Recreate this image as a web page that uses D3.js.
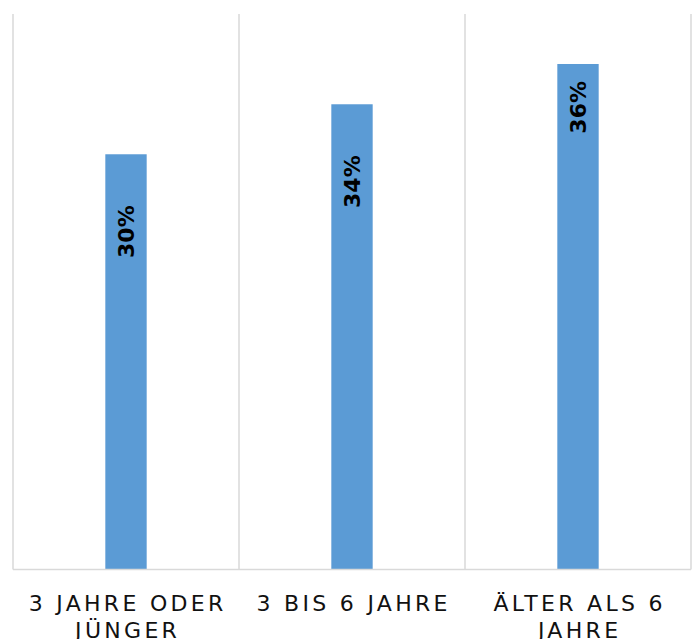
<!DOCTYPE html>
<html>
<head>
<meta charset="utf-8">
<script src="https://cdn.jsdelivr.net/npm/d3@7"></script>
<style>
  html, body { margin: 0; padding: 0; background: #ffffff; }
  svg { display: block; }
</style>
</head>
<body>
<svg id="chart" width="697" height="639"></svg>
<script>
// Age groups and share of respondents in each
const categories = ["3 JAHRE ODER JÜNGER", "3 BIS 6 JAHRE", "ÄLTER ALS 6 JAHRE"];
const shares = [0.299, 0.335, 0.364];
const yDomain = [0, 0.4];

// Layout
const W = 697, H = 639;
const plot = { left: 13, right: 691, top: 14, bottom: 569.5 };
const barFraction = 0.183;              // bar width as a share of the category band
const labelInset = [51, 51, 17];        // distance from bar top to the end of each value label
const barColor = "#5B9BD5";
const gridColor = "#d9d9d9";
const fontFamily = "'DejaVu Sans', Verdana, sans-serif";
const tickFontSize = 22;
const tickSpacing = 3.3;

const svg = d3.select("#chart");

const x = d3.scaleBand()
  .domain(categories)
  .range([plot.left, plot.right])
  .padding(0);

const y = d3.scaleLinear()
  .domain(yDomain)
  .range([plot.bottom, plot.top]);

const fmt = d3.format(".0%");

// Vertical separators between categories
const bounds = categories.map(c => x(c)).concat([x(categories[categories.length - 1]) + x.bandwidth()]);
svg.append("g")
  .selectAll("line")
  .data(bounds)
  .join("line")
  .attr("x1", d => d).attr("x2", d => d)
  .attr("y1", plot.top).attr("y2", plot.bottom)
  .attr("stroke", gridColor)
  .attr("stroke-width", 1.5);

// Bars
const barW = x.bandwidth() * barFraction;
svg.append("g")
  .selectAll("rect")
  .data(shares)
  .join("rect")
  .attr("x", (d, i) => x(categories[i]) + (x.bandwidth() - barW) / 2)
  .attr("y", d => y(d))
  .attr("width", barW)
  .attr("height", d => y(0) - y(d))
  .attr("fill", barColor);

// Category axis line
svg.append("line")
  .attr("x1", plot.left).attr("x2", plot.right)
  .attr("y1", y(0)).attr("y2", y(0))
  .attr("stroke", gridColor)
  .attr("stroke-width", 1.5);

// Value labels, rotated inside each bar
svg.append("g")
  .selectAll("text")
  .data(shares)
  .join("text")
  .attr("transform", (d, i) => {
    const cx = x(categories[i]) + x.bandwidth() / 2;
    return `translate(${cx},${y(d) + labelInset[i]}) rotate(-90)`;
  })
  .attr("text-anchor", "end")
  .attr("dy", "0.36em")
  .attr("font-family", fontFamily)
  .attr("font-weight", "bold")
  .attr("font-size", 22)
  .attr("fill", "#000")
  .text(d => fmt(d));

// Category labels, wrapped to the band width
const tickG = svg.append("g")
  .attr("font-family", fontFamily)
  .attr("font-size", tickFontSize)
  .attr("fill", "#111")
  .attr("text-anchor", "middle")
  .style("letter-spacing", tickSpacing + "px");

categories.forEach(cat => {
  const cx = x(cat) + x.bandwidth() / 2 + tickSpacing / 2;
  const t = tickG.append("text").attr("x", cx).attr("y", 611);
  const words = cat.split(" ");
  const maxW = x.bandwidth() - 12;
  let lines = [];
  let line = [];
  const probe = t.append("tspan");
  words.forEach(w => {
    const trial = line.concat([w]).join(" ");
    probe.text(trial);
    if (probe.node().getComputedTextLength() > maxW && line.length) {
      lines.push(line.join(" "));
      line = [w];
    } else {
      line.push(w);
    }
  });
  lines.push(line.join(" "));
  probe.remove();
  lines.forEach((ln, k) => {
    t.append("tspan")
      .attr("x", cx)
      .attr("dy", k === 0 ? 0 : 27)
      .text(ln);
  });
});
</script>
</body>
</html>
